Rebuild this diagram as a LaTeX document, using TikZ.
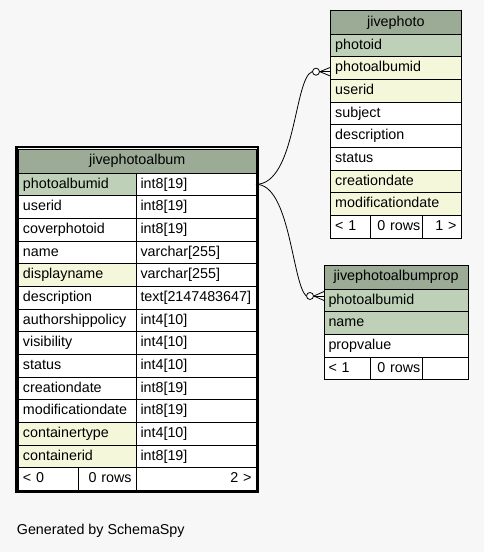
\documentclass[tikz,border=0pt]{standalone}
\usepackage{fontspec}
\setmainfont{Liberation Sans}
\usepackage{tikz}
\usetikzlibrary{positioning,calc}

\definecolor{bggrey}{HTML}{F7F7F7}
\definecolor{headgreen}{HTML}{9BAB96}
\definecolor{pkgreen}{HTML}{BED1B8}
\definecolor{idxyellow}{HTML}{F4F7DA}
\newcommand{\tabfont}{\fontsize{14.3}{17}\selectfont}

\tikzset{
  cell/.style={draw, line width=0.8pt, rectangle, anchor=north west, fill=white,
    minimum height=22.67pt, inner xsep=4.5pt, inner ysep=0pt, outer sep=0pt,
    text height=10.5pt, text depth=3pt, align=left, font=\tabfont},
  pk/.style={cell, fill=pkgreen},
  idx/.style={cell, fill=idxyellow},
  head/.style={cell, fill=headgreen, minimum height=24pt, align=center},
  foot/.style={cell, align=right},
  colname/.style={text width=108.5pt},
  coltype/.style={text width=111pt},
  photocol/.style={text width=121.3pt},
  propcol/.style={text width=135.3pt},
  rowcount/.style={foot, inner xsep=2pt, text width=47.6pt},
  conn/.style={line width=0.8pt},
  odot/.style={circle, draw, fill=white, line width=0.8pt, inner sep=0pt, minimum size=7pt}
}

\begin{document}
\begin{tikzpicture}[x=1pt,y=-1pt]
    \fill[bggrey] (0,0) rectangle (484,552);
    \useasboundingbox (0,0) rectangle (484,552);

    % jivephotoalbum
    \node[head, text width=228.5pt] (ahead) at (18.5,149) {jivephotoalbum};
    \node[pk, colname] (an1) at (ahead.south west) {photoalbumid};
    \node[cell, colname] (an2) at (an1.south west) {userid};
    \node[cell, colname] (an3) at (an2.south west) {coverphotoid};
    \node[cell, colname] (an4) at (an3.south west) {name};
    \node[idx, colname] (an5) at (an4.south west) {displayname};
    \node[cell, colname] (an6) at (an5.south west) {description};
    \node[cell, colname] (an7) at (an6.south west) {authorshippolicy};
    \node[cell, colname] (an8) at (an7.south west) {visibility};
    \node[cell, colname] (an9) at (an8.south west) {status};
    \node[cell, colname] (an10) at (an9.south west) {creationdate};
    \node[cell, colname] (an11) at (an10.south west) {modificationdate};
    \node[idx, colname] (an12) at (an11.south west) {containertype};
    \node[idx, colname] (an13) at (an12.south west) {containerid};

    \node[cell, coltype] (at1) at (an1.north east) {int8[19]};
    \node[cell, coltype] (at2) at (an2.north east) {int8[19]};
    \node[cell, coltype] (at3) at (an3.north east) {int8[19]};
    \node[cell, coltype] (at4) at (an4.north east) {varchar[255]};
    \node[cell, coltype] (at5) at (an5.north east) {varchar[255]};
    \node[cell, coltype] (at6) at (an6.north east) {text[2147483647]};
    \node[cell, coltype] (at7) at (an7.north east) {int4[10]};
    \node[cell, coltype] (at8) at (an8.north east) {int4[10]};
    \node[cell, coltype] (at9) at (an9.north east) {int4[10]};
    \node[cell, coltype] (at10) at (an10.north east) {int8[19]};
    \node[cell, coltype] (at11) at (an11.north east) {int8[19]};
    \node[cell, coltype] (at12) at (an12.north east) {int4[10]};
    \node[cell, coltype] (at13) at (an13.north east) {int8[19]};

    \node[cell, text width=51.2pt] (af1) at (an13.south west) {< 0};
    \node[foot, text width=48.3pt] (af2) at (af1.north east) {0 rows};
    \node[foot, coltype] (af3) at (af2.north east) {2 >};
    \draw[line width=2.2pt] ($(ahead.north west)+(-2,-2)$) rectangle ($(af3.south east)+(2,2)$);

    % jivephoto
    \node[head, text width=121.3pt, minimum height=23.5pt] (phead) at (330.7,10.7) {jivephoto};
    \node[pk, photocol] (pn1) at (phead.south west) {photoid};
    \node[idx, photocol] (pn2) at (pn1.south west) {photoalbumid};
    \node[idx, photocol] (pn3) at (pn2.south west) {userid};
    \node[cell, photocol] (pn4) at (pn3.south west) {subject};
    \node[cell, photocol] (pn5) at (pn4.south west) {description};
    \node[cell, photocol] (pn6) at (pn5.south west) {status};
    \node[idx, photocol] (pn7) at (pn6.south west) {creationdate};
    \node[idx, photocol] (pn8) at (pn7.south west) {modificationdate};
    \node[cell, text width=31pt] (pf1) at (pn8.south west) {< 1};
    \node[rowcount] (pf2) at (pf1.north east) {0 rows};
    \node[foot, text width=29.7pt] (pf3) at (pf2.north east) {1 >};

    % jivephotoalbumprop
    \node[head, text width=135.3pt] (qhead) at (324,265) {jivephotoalbumprop};
    \node[pk, propcol] (qn1) at (qhead.south west) {photoalbumid};
    \node[pk, propcol] (qn2) at (qn1.south west) {name};
    \node[cell, propcol] (qn3) at (qn2.south west) {propvalue};
    \node[cell, text width=37.7pt] (qf1) at (qn3.south west) {< 1};
    \node[rowcount] (qf2) at (qf1.north east) {0 rows};
    \node[foot, text width=37pt] (qf3) at (qf2.north east) {};

    % Relations
    \node[odot] (o1) at (316,71.7) {};
    \node[odot] (o2) at (310,296) {};
    \draw[conn] (at1.east) .. controls (296,184) and (294,78) .. (o1.west);
    \draw[conn] (at1.east) .. controls (290,184) and (292,282) .. (o2.west);
    \draw[conn] (o1.east) -- ($(pn2.west |- o1)+(0,-4.5)$);
    \draw[conn] (o1.east) -- (pn2.west |- o1);
    \draw[conn] (o1.east) -- ($(pn2.west |- o1)+(0,4.5)$);
    \draw[conn] (o2.east) -- ($(qn1.west |- o2)+(0,-4.5)$);
    \draw[conn] (o2.east) -- (qn1.west |- o2);
    \draw[conn] (o2.east) -- ($(qn1.west |- o2)+(0,4.5)$);

    \node[anchor=base west, inner sep=0pt, font=\tabfont] (gen) at (16.7,534.3) {Generated by SchemaSpy};
\end{tikzpicture}
\end{document}
